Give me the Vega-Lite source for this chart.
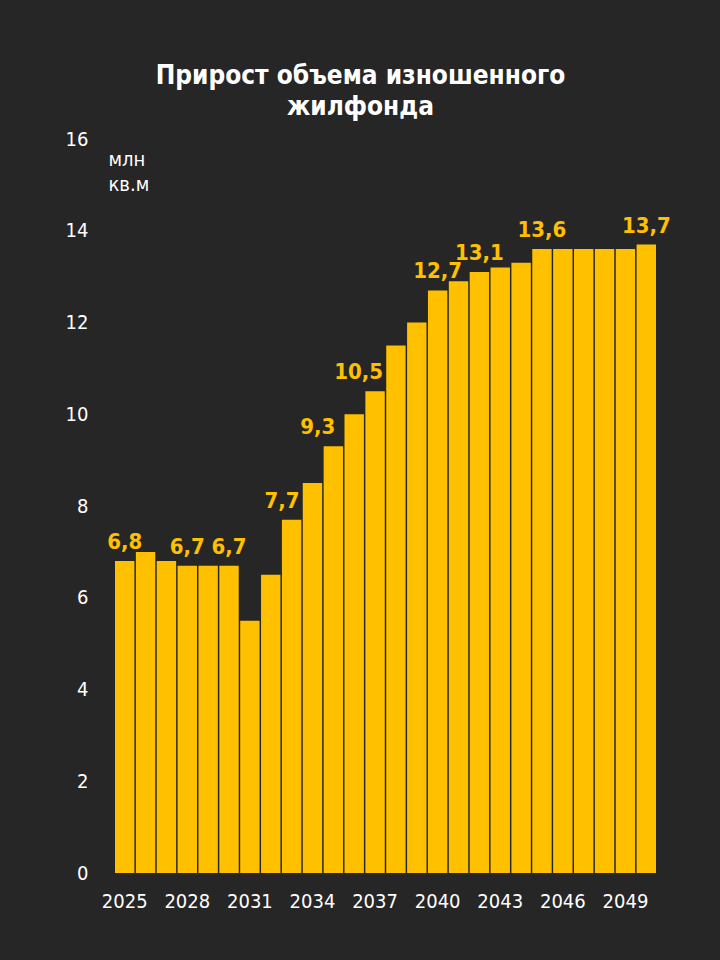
{
  "$schema": "https://vega.github.io/schema/vega-lite/v6.json",
  "autosize": "none",
  "width": 541,
  "height": 734,
  "padding": {"left": 115, "top": 139, "right": 64, "bottom": 87},
  "background": "#262626",
  "title": {
    "text": ["Прирост объема изношенного", "жилфонда"],
    "font": "DejaVu Sans Condensed",
    "fontSize": 26,
    "fontWeight": "bold",
    "color": "#ffffff",
    "anchor": "middle",
    "dx": -25,
    "offset": 9,
    "lineHeight": 31
  },
  "data": {
    "values": [
      {"year": 2025, "value": 6.8, "label": "6,8"},
      {"year": 2026, "value": 7.0, "label": ""},
      {"year": 2027, "value": 6.8, "label": ""},
      {"year": 2028, "value": 6.7, "label": "6,7"},
      {"year": 2029, "value": 6.7, "label": ""},
      {"year": 2030, "value": 6.7, "label": "6,7"},
      {"year": 2031, "value": 5.5, "label": ""},
      {"year": 2032, "value": 6.5, "label": ""},
      {"year": 2033, "value": 7.7, "label": "7,7"},
      {"year": 2034, "value": 8.5, "label": ""},
      {"year": 2035, "value": 9.3, "label": "9,3"},
      {"year": 2036, "value": 10.0, "label": ""},
      {"year": 2037, "value": 10.5, "label": "10,5"},
      {"year": 2038, "value": 11.5, "label": ""},
      {"year": 2039, "value": 12.0, "label": ""},
      {"year": 2040, "value": 12.7, "label": "12,7"},
      {"year": 2041, "value": 12.9, "label": ""},
      {"year": 2042, "value": 13.1, "label": "13,1"},
      {"year": 2043, "value": 13.2, "label": ""},
      {"year": 2044, "value": 13.3, "label": ""},
      {"year": 2045, "value": 13.6, "label": "13,6"},
      {"year": 2046, "value": 13.6, "label": ""},
      {"year": 2047, "value": 13.6, "label": ""},
      {"year": 2048, "value": 13.6, "label": ""},
      {"year": 2049, "value": 13.6, "label": ""},
      {"year": 2050, "value": 13.7, "label": "13,7"}
    ]
  },
  "encoding": {
    "x": {
      "field": "year",
      "type": "ordinal",
      "scale": {"paddingInner": 0.07, "paddingOuter": 0},
      "axis": {
        "title": null,
        "labelAngle": 0,
        "labelExpr": "(datum.value - 2025) % 3 == 0 ? datum.label : ''",
        "labelFont": "DejaVu Sans Condensed",
        "labelFontSize": 20,
        "labelColor": "#ffffff",
        "labelPadding": 18,
        "ticks": false,
        "domain": false
      }
    },
    "y": {
      "field": "value",
      "type": "quantitative",
      "scale": {"domain": [0, 16]},
      "axis": {
        "values": [0, 2, 4, 6, 8, 10, 12, 14, 16],
        "grid": false,
        "ticks": false,
        "domain": false,
        "labelFont": "DejaVu Sans Condensed",
        "labelFontSize": 20,
        "labelColor": "#ffffff",
        "labelPadding": 27,
        "title": ["млн", "кв.м"],
        "titleFont": "DejaVu Sans Condensed",
        "titleFontSize": 20,
        "titleFontWeight": "normal",
        "titleColor": "#ffffff",
        "titleAngle": 0,
        "titleAlign": "left",
        "titleBaseline": "top",
        "titleX": -7,
        "titleY": 10,
        "titleLineHeight": 25
      }
    }
  },
  "layer": [
    {"mark": {"type": "bar", "color": "#ffc000"}},
    {
      "transform": [{"filter": "datum.year != 2033 && datum.year != 2035 && datum.year != 2037"}],
      "mark": {
        "type": "text",
        "baseline": "bottom",
        "dy": -7,
        "font": "DejaVu Sans Condensed",
        "fontSize": 22,
        "fontWeight": "bold",
        "color": "#ffc000"
      },
      "encoding": {"text": {"field": "label"}}
    },
    {
      "transform": [{"filter": "datum.year == 2033 || datum.year == 2037"}],
      "mark": {
        "type": "text",
        "baseline": "bottom",
        "align": "right",
        "dx": 8,
        "dy": -7,
        "font": "DejaVu Sans Condensed",
        "fontSize": 22,
        "fontWeight": "bold",
        "color": "#ffc000"
      },
      "encoding": {"text": {"field": "label"}}
    },
    {
      "transform": [{"filter": "datum.year == 2035"}],
      "mark": {
        "type": "text",
        "baseline": "bottom",
        "align": "right",
        "dx": 2,
        "dy": -7,
        "font": "DejaVu Sans Condensed",
        "fontSize": 22,
        "fontWeight": "bold",
        "color": "#ffc000"
      },
      "encoding": {"text": {"field": "label"}}
    }
  ],
  "config": {"view": {"stroke": null}}
}
